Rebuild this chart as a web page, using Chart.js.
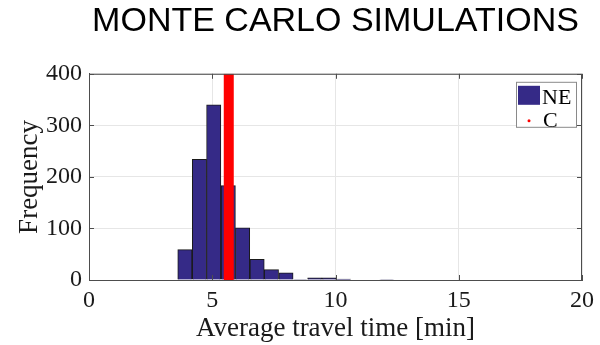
<!DOCTYPE html>
<html>
<head>
<meta charset="utf-8">
<title>Monte Carlo Simulations</title>
<script src="https://cdn.jsdelivr.net/npm/chart.js@4/dist/chart.umd.min.js"></script>
<style>
  html, body { margin: 0; padding: 0; background: #fff; }
  #wrap { width: 600px; height: 345px; }
</style>
</head>
<body>
<div id="wrap"><canvas id="mcChart" width="600" height="345"></canvas></div>
<script>
/* Monte Carlo histogram – NE vs C */

// ── Data ────────────────────────────────────────────────────────
const binCenters = [3.89, 4.48, 5.06, 5.65, 6.23, 6.82, 7.40, 7.99, 8.57, 9.16, 9.74, 10.33, 10.91, 11.50, 12.08];
const neCounts   = [59, 234, 340, 183, 101, 40, 20, 14, 1, 4, 4, 2, 0, 0, 1];
const cValue     = 5.67;
const cLine      = [0, 400];
const xTicks     = [0, 5, 10, 15, 20];
const yTicks     = [0, 100, 200, 300, 400];
const labels     = { title: 'MONTE CARLO SIMULATIONS', x: 'Average travel time [min]', y: 'Frequency', ne: 'NE', c: 'C' };

const SERIF = "'Liberation Serif', 'Times New Roman', serif";
const SANS  = "'Liberation Sans', Arial, sans-serif";
const AXIS  = '#4d4d4d';

// ── Box, inward ticks and legend (MATLAB look) ──────────────────
const matlabFrame = {
  id: 'matlabFrame',
  afterDatasetsDraw(chart) {
    const { ctx, chartArea: a, scales } = chart;
    ctx.save();
    ctx.strokeStyle = AXIS;
    ctx.lineWidth = 1;
    ctx.strokeRect(a.left + 0.5, a.top + 0.5, a.right - a.left - 1, a.bottom - a.top);

    ctx.beginPath();
    xTicks.forEach(v => {
      const px = Math.round(scales.x.getPixelForValue(v)) + 0.5;
      ctx.moveTo(px, a.bottom); ctx.lineTo(px, a.bottom - 5);
      ctx.moveTo(px, a.top);    ctx.lineTo(px, a.top + 5);
    });
    yTicks.forEach(v => {
      const py = Math.round(scales.y.getPixelForValue(v)) + 0.5;
      ctx.moveTo(a.left, py);  ctx.lineTo(a.left + 5, py);
      ctx.moveTo(a.right, py); ctx.lineTo(a.right - 5, py);
    });
    ctx.stroke();

    // legend, top right inside the axes
    const ds = chart.data.datasets;
    const bx = a.right - 66, by = a.top + 8, bw = 60, bh = 45;
    ctx.fillStyle = '#fff';
    ctx.fillRect(bx, by, bw, bh);
    ctx.strokeStyle = '#8a8a8a';
    ctx.strokeRect(bx + 0.5, by + 0.5, bw, bh);

    ctx.fillStyle = ds[1].backgroundColor;
    ctx.fillRect(bx + 2, by + 4, 22, 19);
    ctx.fillStyle = ds[0].borderColor;
    ctx.beginPath();
    ctx.arc(bx + 13, by + 39, 1.5, 0, Math.PI * 2);
    ctx.fill();

    ctx.fillStyle = '#000';
    ctx.font = '22px ' + SERIF;
    ctx.textBaseline = 'alphabetic';
    ctx.textAlign = 'left';
    ctx.fillText(ds[1].label, bx + 26, by + 22);
    ctx.fillText(ds[0].label, bx + 27, by + 45);
    ctx.restore();
  }
};

// ── Chart ───────────────────────────────────────────────────────
new Chart(document.getElementById('mcChart'), {
  type: 'bar',
  data: {
    datasets: [
      {
        type: 'line',
        label: labels.c,
        data: cLine.map(y => ({ x: cValue, y })),
        borderColor: '#ff0000',
        borderWidth: 10,
        pointRadius: 0,
        order: 0,
      },
      {
        type: 'bar',
        label: labels.ne,
        data: binCenters.map((x, i) => ({ x, y: neCounts[i] })),
        backgroundColor: '#352a87',
        borderColor: '#1a1a1a',
        borderWidth: 1,
        barPercentage: 1,
        categoryPercentage: 1,
        order: 1,
      }
    ]
  },
  options: {
    responsive: false,
    animation: false,
    events: [],
    layout: { padding: { left: 0, right: 18, top: 0, bottom: 0 } },
    plugins: {
      legend: { display: false },
      tooltip: { enabled: false },
      title: {
        display: true,
        fullSize: false,
        text: labels.title,
        color: '#000',
        font: { family: SANS, size: 34, weight: 'normal' },
        padding: { top: 1, bottom: 32 },
      }
    },
    scales: {
      x: {
        type: 'linear',
        min: 0, max: 20,
        offset: false,
        afterBuildTicks: s => { s.ticks = xTicks.map(value => ({ value })); },
        afterFit: s => { s.height = 65; },
        grid: { color: '#e6e6e6', drawTicks: false, offset: false },
        border: { color: AXIS },
        ticks: { color: '#1a1a1a', padding: 6, maxRotation: 0, font: { family: SERIF, size: 24 } },
        title: {
          display: true, text: labels.x, color: '#1a1a1a',
          font: { family: SERIF, size: 27 }, padding: { top: 0, bottom: 0 }
        }
      },
      y: {
        min: 0, max: 400,
        afterBuildTicks: s => { s.ticks = yTicks.map(value => ({ value })); },
        afterFit: s => { s.width = 89; },
        grid: { color: '#e6e6e6', drawTicks: false },
        border: { color: AXIS },
        ticks: { color: '#1a1a1a', padding: 7, font: { family: SERIF, size: 24 } },
        title: {
          display: true, text: labels.y, color: '#1a1a1a',
          font: { family: SERIF, size: 27 }, padding: { top: 14, bottom: 0 }
        }
      }
    }
  },
  plugins: [matlabFrame]
});
</script>
</body>
</html>
